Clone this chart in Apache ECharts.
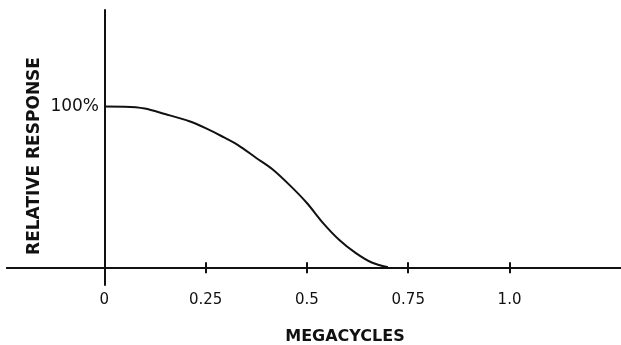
<!DOCTYPE html>
<html>
<head>
<meta charset="utf-8">
<script src="https://cdn.jsdelivr.net/npm/echarts@6/dist/echarts.min.js"></script>
<style>
    html, body { margin: 0; padding: 0; background: #fff; }
    #chart { width: 621px; height: 345px; }
</style>
</head>
<body>
<div id="chart"></div>
<script>
// frequency in megacycles, response in percent
const megacycles = [0, 0.05, 0.10, 0.15, 0.21, 0.25, 0.29, 0.33, 0.375, 0.415, 0.46, 0.50, 0.54, 0.58, 0.62, 0.66, 0.70];
const response = [100, 99.9, 98.8, 95.3, 90.8, 86.5, 81.5, 76, 68, 61, 50.5, 40, 27.5, 17, 9, 3, 0];

const xTicks = [0, 0.25, 0.5, 0.75, 1.0];
const xTickLabels = ['0', '0.25', '0.5', '0.75', '1.0'];
const yTicks = [100];
const yTickLabels = ['100%'];

const ink = '#111';
const font = 'DejaVu Sans';

const chart = echarts.init(document.getElementById('chart'));

// axis line + ticks, shared by both x axes (one ticks down, one ticks up)
const xBase = {
    type: 'value',
    position: 'bottom',
    min: -0.24,
    max: 1.275,
    axisLine: {show: true, onZero: true, onZeroAxisIndex: 0, lineStyle: {color: ink, width: 2}},
    splitLine: {show: false}
};

const option = {
    animation: false,
    backgroundColor: '#fff',
    grid: {left: 7, right: 0, top: 10, bottom: 60, containLabel: false, outerBoundsMode: 'none'},
    xAxis: [
        Object.assign({}, xBase, {
            axisTick: {show: true, inside: false, length: 6, customValues: xTicks, lineStyle: {color: ink, width: 2}},
            axisLabel: {
                show: true,
                customValues: xTicks,
                margin: 8,
                color: ink,
                fontFamily: font,
                fontSize: 15,
                formatter: function (v) {
                    return xTickLabels[xTicks.indexOf(v)];
                }
            }
        }),
        Object.assign({}, xBase, {
            axisTick: {show: true, inside: true, length: 5, customValues: xTicks, lineStyle: {color: ink, width: 2}},
            axisLabel: {show: false}
        })
    ],
    yAxis: {
        type: 'value',
        min: -11,
        max: 160,
        position: 'left',
        axisLine: {show: true, onZero: true, onZeroAxisIndex: 0, lineStyle: {color: ink, width: 2}},
        axisTick: {show: false},
        splitLine: {show: false},
        axisLabel: {
            show: true,
            customValues: yTicks,
            // labels stay at the grid edge, pull them over to the zero line
            margin: -92,
            color: ink,
            fontFamily: font,
            fontSize: 17,
            formatter: function (v) {
                return yTickLabels[yTicks.indexOf(v)];
            }
        }
    },
    graphic: [
        {
            type: 'text',
            x: 35,
            y: 156,
            rotation: Math.PI / 2,
            style: {
                text: 'RELATIVE RESPONSE',
                fill: ink,
                font: 'bold 17px "DejaVu Sans"',
                align: 'center',
                verticalAlign: 'middle'
            }
        },
        {
            type: 'text',
            x: 345,
            y: 337,
            style: {
                text: 'MEGACYCLES',
                fill: ink,
                font: 'bold 16px "DejaVu Sans"',
                align: 'center',
                verticalAlign: 'middle'
            }
        }
    ],
    series: [{
        type: 'line',
        xAxisIndex: 0,
        yAxisIndex: 0,
        data: megacycles.map((x, i) => [x, response[i]]),
        smooth: 0.3,
        showSymbol: false,
        lineStyle: {color: ink, width: 2},
        // full-height line at 0 so the vertical axis runs below the baseline
        markLine: {
            silent: true,
            symbol: 'none',
            label: {show: false},
            lineStyle: {color: ink, width: 2, type: 'solid'},
            data: [{xAxis: 0}]
        }
    }]
};

chart.setOption(option);
</script>
</body>
</html>
